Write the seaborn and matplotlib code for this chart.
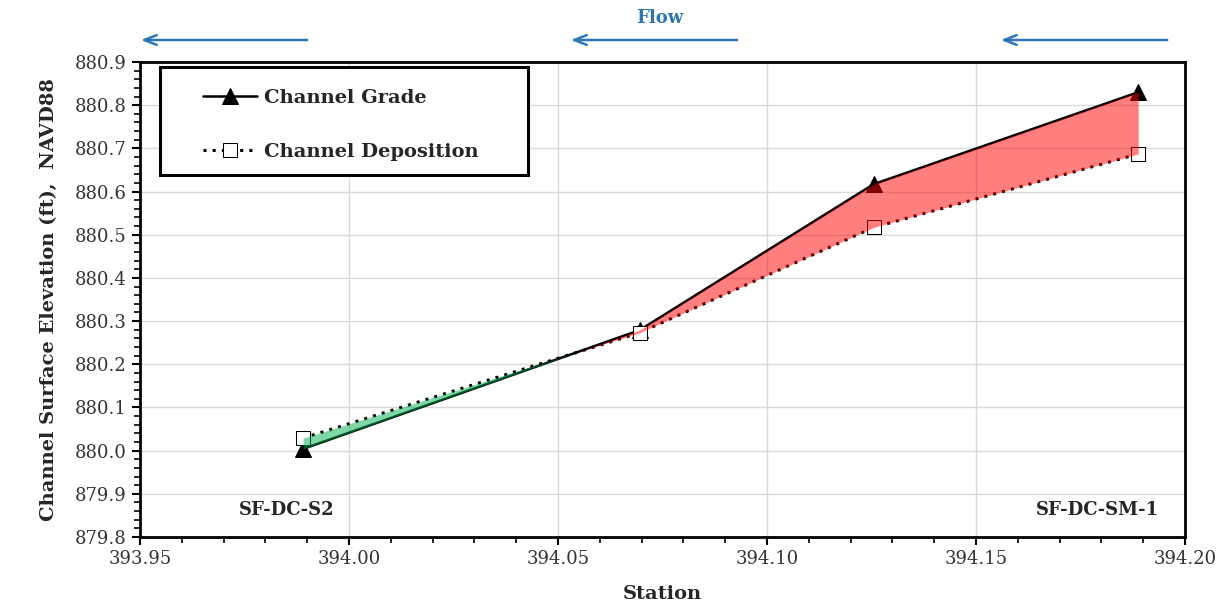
import numpy as np
import matplotlib
matplotlib.use("Agg")
import matplotlib.pyplot as plt
import seaborn as sns
from matplotlib.patches import Rectangle
from matplotlib.ticker import MultipleLocator, FormatStrFormatter

# datos
station = [393.989, 394.0695, 394.1255, 394.1888]
grade = [880.004, 880.279, 880.617, 880.830]
deposition = [880.029, 880.273, 880.517, 880.687]

sns.set_style("whitegrid")
plt.rcParams['font.family'] = ['DejaVu Serif']

fig = plt.figure(figsize=(12.27, 6.12), dpi=100)
ax = fig.add_axes([0.1141, 0.1225, 0.8517, 0.7762])

x = np.array(station)
g = np.array(grade)
d = np.array(deposition)

sns.lineplot(x=station, y=grade, ax=ax, color="black", lw=1.8, marker="^", markersize=11,
             markerfacecolor="black", markeredgecolor="black", label="Channel Grade", zorder=3)
sns.lineplot(x=station, y=deposition, ax=ax, color="black", lw=2.2, linestyle=(0, (1, 2)), marker="s",
             markersize=10, markerfacecolor="white", markeredgecolor="black",
             label="Channel Deposition", zorder=4)

# relleno semitransparente por encima de las lineas
ax.fill_between(x, g, d, where=d >= g, interpolate=True, color="#00b050", alpha=0.5, lw=0, zorder=5)
ax.fill_between(x, g, d, where=g >= d, interpolate=True, color="#ff0000", alpha=0.5, lw=0, zorder=5)

ax.set_xlim(393.95, 394.20)
ax.set_ylim(879.8, 880.9)
ax.xaxis.set_major_locator(MultipleLocator(0.05))
ax.xaxis.set_minor_locator(MultipleLocator(0.01))
ax.yaxis.set_major_locator(MultipleLocator(0.1))
ax.yaxis.set_minor_locator(MultipleLocator(0.02))
ax.xaxis.set_major_formatter(FormatStrFormatter("%.2f"))
ax.yaxis.set_major_formatter(FormatStrFormatter("%.1f"))
ax.tick_params(axis="both", which="major", direction="out", length=6, width=1.5,
               labelsize=13, colors="black", labelcolor="#333333")
ax.tick_params(axis="both", which="minor", direction="out", length=4, width=1.2, colors="black")
ax.tick_params(axis="x", which="both", bottom=True)
ax.tick_params(axis="y", which="both", left=True)
ax.grid(True, which="major", color="#d9d9d9", lw=1)
for s in ax.spines.values():
    s.set_color("black")
    s.set_linewidth(2)

ax.set_xlabel("Station", fontsize=14, fontweight="bold", labelpad=12)
ax.set_ylabel("Channel Surface Elevation (ft),  NAVD88", fontsize=14, fontweight="bold", labelpad=12)

ax.text(393.985, 879.862, "SF-DC-S2", ha="center", va="center", fontsize=13, fontweight="bold")
ax.text(394.179, 879.862, "SF-DC-SM-1", ha="center", va="center", fontsize=13, fontweight="bold")

# leyenda sin marco + rectangulo propio
leg = ax.legend(loc="upper left", bbox_to_anchor=(0.0603, 0.943), fontsize=14, frameon=False,
                handlelength=2.8, labelspacing=1.85, borderpad=0, handletextpad=0.35,
                borderaxespad=0)
leg.set_zorder(10)
for t in leg.get_texts():
    t.set_fontweight("bold")
ax.add_patch(Rectangle((0.0191, 0.762), 0.3522, 0.2275, transform=ax.transAxes,
                       facecolor="white", edgecolor="black", lw=2.2, zorder=9))

# flechas de flujo
blue = "#2e75b6"
for x0, x1 in [(310, 138), (740, 568), (1170, 998)]:
    ax.annotate("", xy=(x1 / 1227, 1 - 40 / 612), xytext=(x0 / 1227, 1 - 40 / 612),
                xycoords="figure fraction", textcoords="figure fraction",
                arrowprops=dict(arrowstyle="->, head_length=0.9, head_width=0.35",
                                color=blue, lw=1.8))
fig.text(660 / 1227, 1 - 18 / 612, "Flow", color=blue, fontsize=13, fontweight="bold",
         ha="center", va="center")

fig.savefig("out.png", dpi=100)
